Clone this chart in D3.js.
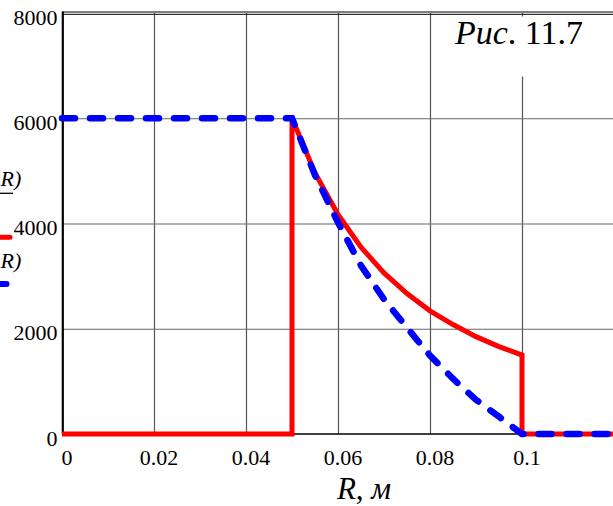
<!DOCTYPE html>
<html>
<head>
<meta charset="utf-8">
<script src="https://cdn.jsdelivr.net/npm/d3@7"></script>
<style>
  body { margin: 0; background: #fff; }
  svg { display: block; font-family: "Liberation Serif", "Times New Roman", serif; }
</style>
</head>
<body>
<div class="chart"></div>
<script>
// values
const xTicks = [0, 0.02, 0.04, 0.06, 0.08, 0.1];
const yTicks = [0, 2000, 4000, 6000, 8000];
const xGrid = [0.02, 0.04, 0.06, 0.08, 0.1];
const yGrid = [2000, 4000, 6000];

// red solid trace
const rRed = [0, 0.05, 0.05, 0.055, 0.06, 0.065, 0.07, 0.075, 0.08, 0.085, 0.09, 0.095, 0.1, 0.1, 0.12];
const sigmaRed = [0, 0, 6000, 4960, 4170, 3550, 3060, 2670, 2340, 2080, 1850, 1660, 1500, 0, 0];

// blue dashed trace
const rBlue = [0, 0.05, 0.055, 0.06, 0.065, 0.07, 0.075, 0.08, 0.085, 0.09, 0.095, 0.1, 0.12];
const sigmaBlue = [6000, 6000, 4920, 4020, 3200, 2560, 2020, 1490, 1050, 650, 330, 0, 0];

const W = 613, H = 506;
const plotL = 62, plotR = 614, plotT = 13, plotB = 434;

const svg = d3.select('.chart').append('svg')
  .attr('width', W).attr('height', H);

const x = d3.scaleLinear().domain([0, 0.12]).range([plotL, plotR]);
const y = d3.scaleLinear().domain([0, 8000]).range([plotB, plotT]);

// grid
svg.append('g')
  .attr('class', 'x-grid')
  .attr('transform', 'translate(0,' + plotB + ')')
  .call(d3.axisBottom(x).tickValues(xGrid).tickSize(-(plotB - plotT)).tickFormat(''))
  .call(g => g.select('.domain').remove())
  .selectAll('line').attr('stroke', '#555').attr('stroke-width', 1.2);

svg.append('g')
  .attr('class', 'y-grid')
  .attr('transform', 'translate(' + plotL + ',0)')
  .call(d3.axisLeft(y).tickValues(yGrid).tickSize(-(plotR - plotL)).tickFormat(''))
  .call(g => g.select('.domain').remove())
  .selectAll('line').attr('stroke', '#666').attr('stroke-width', 1.2);

// frame: double top line, thick left axis, bottom axis
svg.append('line').attr('x1', plotL).attr('x2', W).attr('y1', 12).attr('y2', 12)
  .attr('stroke', '#000').attr('stroke-width', 1);
svg.append('line').attr('x1', plotL).attr('x2', W).attr('y1', 14.3).attr('y2', 14.3)
  .attr('stroke', '#000').attr('stroke-width', 1);
svg.append('line').attr('x1', plotL + 0.8).attr('x2', plotL + 0.8).attr('y1', 11.5).attr('y2', plotB + 0.5)
  .attr('stroke', '#000').attr('stroke-width', 2.2);
svg.append('line').attr('x1', plotL).attr('x2', W).attr('y1', plotB).attr('y2', plotB)
  .attr('stroke', '#000').attr('stroke-width', 1.5);

// tick labels
const fmt = d => d === 0 ? '0' : String(d);

svg.append('g')
  .attr('class', 'x-axis')
  .attr('transform', 'translate(0,' + plotB + ')')
  .call(d3.axisBottom(x).tickValues(xTicks).tickSize(0).tickPadding(15.5).tickFormat(fmt))
  .call(g => g.select('.domain').remove())
  .selectAll('text')
  .attr('dx', 4.5)
  .style('font-family', '"Liberation Serif", "Times New Roman", serif')
  .style('font-size', '22px')
  .attr('fill', '#000');

svg.append('g')
  .attr('class', 'y-axis')
  .attr('transform', 'translate(' + plotL + ',0)')
  .call(d3.axisLeft(y).tickValues(yTicks).tickSize(0).tickPadding(4.5).tickFormat(fmt))
  .call(g => g.select('.domain').remove())
  .selectAll('text')
  .attr('dy', '0.5em')
  .style('font-family', '"Liberation Serif", "Times New Roman", serif')
  .style('font-size', '22px')
  .attr('fill', '#000');

// traces
const line = d3.line().x(d => x(d[0])).y(d => y(d[1]));

svg.append('path')
  .datum(d3.zip(rRed, sigmaRed))
  .attr('d', line)
  .attr('fill', 'none')
  .attr('stroke', '#ff0000')
  .attr('stroke-width', 5)
  .attr('stroke-linejoin', 'miter');

svg.append('path')
  .datum(d3.zip(rBlue, sigmaBlue))
  .attr('d', line)
  .attr('fill', 'none')
  .attr('stroke', '#0000ff')
  .attr('stroke-width', 6.5)
  .attr('stroke-linecap', 'round')
  .attr('stroke-dasharray', '13 15');

// figure label
svg.append('rect').attr('x', 446).attr('y', 16.5).attr('width', W - 446).attr('height', 60)
  .attr('fill', '#fff');
const fig = svg.append('text').attr('x', 455).attr('y', 44)
  .style('font-size', '34px').attr('fill', '#000');
fig.append('tspan').style('font-style', 'italic').text('Рис');
fig.append('tspan').text('. 11.7');

// axis title
const xt = svg.append('text').attr('x', 364).attr('y', 499)
  .attr('text-anchor', 'middle').style('font-size', '31px').attr('fill', '#000');
xt.append('tspan').style('font-style', 'italic').text('R');
xt.append('tspan').text(', ');
xt.append('tspan').style('font-style', 'italic').text('м');

// y-axis legend (right end of each trace name with its line sample)
svg.append('text').attr('x', 0.5).attr('y', 186)
  .style('font-size', '22px').style('font-style', 'italic').attr('fill', '#000')
  .text('R)');
svg.append('line').attr('x1', -5).attr('x2', 13).attr('y1', 193.3).attr('y2', 193.3)
  .attr('stroke', '#000').attr('stroke-width', 1.3);
svg.append('line').attr('x1', -5).attr('x2', 10).attr('y1', 237.3).attr('y2', 237.3)
  .attr('stroke', '#ff0000').attr('stroke-width', 5).attr('stroke-linecap', 'round');
svg.append('text').attr('x', 0.5).attr('y', 268)
  .style('font-size', '22px').style('font-style', 'italic').attr('fill', '#000')
  .text('R)');
svg.append('line').attr('x1', -5).attr('x2', 6.5).attr('y1', 284).attr('y2', 284)
  .attr('stroke', '#0000ff').attr('stroke-width', 6).attr('stroke-linecap', 'round');
</script>
</body>
</html>
